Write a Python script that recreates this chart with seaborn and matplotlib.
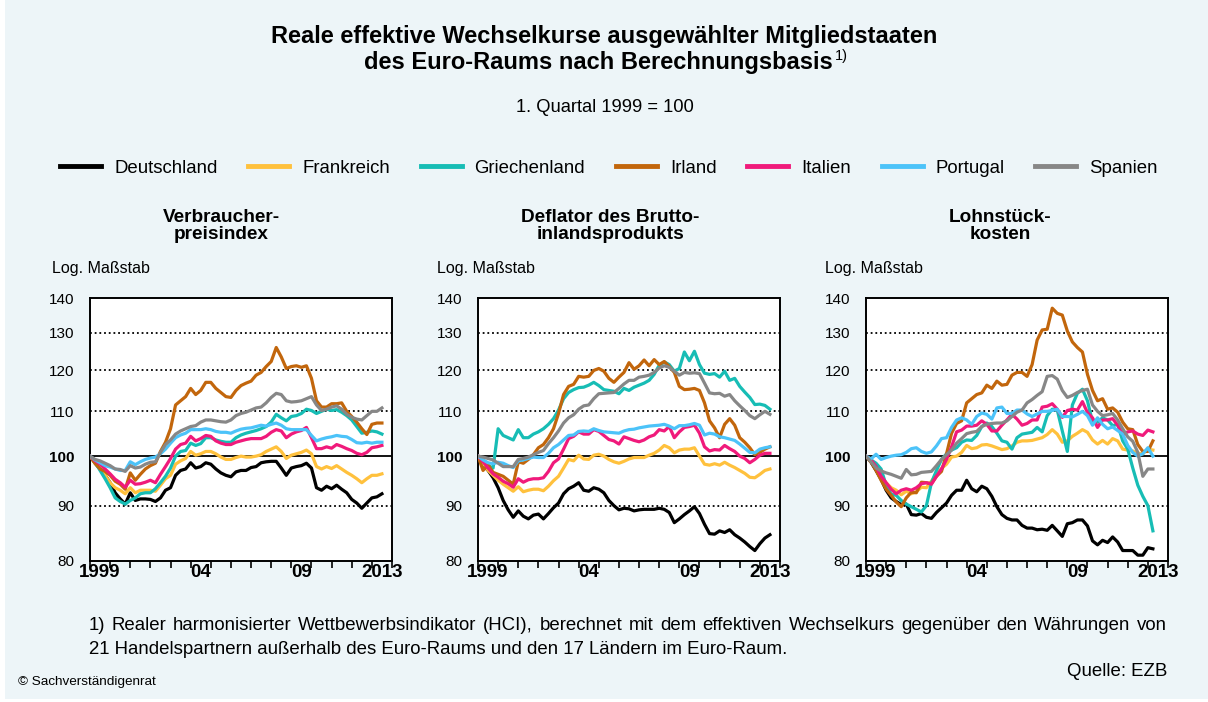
import numpy as np
import pandas as pd
import seaborn as sns
import matplotlib
matplotlib.use("Agg")
import matplotlib.pyplot as plt
from matplotlib.patches import Rectangle

plt.rcParams["font.family"] = ["Liberation Sans", "DejaVu Sans"]

laender = ["Deutschland", "Frankreich", "Griechenland", "Irland", "Italien", "Portugal", "Spanien"]
farben = ["#000000", "#FFC13D", "#17BDB5", "#C2660C", "#F01A7B", "#4CC3F9", "#878787"]

# Verbraucherpreisindex, quartalsweise ab 1999 Q1
vpi_de = [100, 98.5, 97.3, 96, 94.5, 92.5, 91.3, 90.3, 92.5, 91, 91.3, 91.3, 91.2, 90.8, 91.5, 93, 93.5, 96, 97, 97.3,
          98.6, 97.5, 97.8, 98.6, 98.3, 97.3, 96.5, 96, 95.7, 96.7, 97, 97, 97.6, 97.8, 98.6, 98.8, 98.9, 98.9, 97.5, 96,
          97.5, 97.8, 98, 98.5, 97.5, 93.5, 93, 93.8, 93.3, 94, 93.2, 92.5, 91.2, 90.5, 89.5, 90.5, 91.5, 91.7, 92.3]
vpi_fr = [100, 98.5, 97.5, 96, 94.5, 93.5, 93, 92.3, 93.5, 92.5, 93, 93, 93, 92.8, 94, 95.3, 96, 98.3, 99, 99.5,
          101, 100.2, 100.5, 101, 101, 100.5, 99.8, 99.3, 99.3, 99.7, 100, 99.8, 99.8, 100, 100.3, 101, 101.5, 102, 101, 99.5,
          100.2, 100.5, 100.8, 101.3, 100.5, 97.8, 97.3, 97.8, 97.4, 98, 97.3, 96.6, 96, 95.3, 94.5, 95.3, 96, 96, 96.3]
vpi_gr = [100, 98.7, 97, 95.3, 93.5, 91.5, 90.8, 90.3, 91, 91.5, 92.3, 92.5, 92.5, 93.3, 94.5, 95.8, 97.5, 100, 101, 101.2,
          102.8, 102.3, 102.7, 104, 104, 103.5, 103.2, 103, 103, 104, 104.6, 105, 105.3, 105.6, 106, 106.5, 107.5, 109.3, 108.5, 107.8,
          108.8, 109, 109.5, 110.5, 110.2, 109.5, 110, 110.5, 110.2, 110.4, 109.8, 109, 108, 106.5, 105, 105.2, 105.5, 105.3, 104.8]
vpi_ie = [100, 98.5, 97.3, 96.8, 96, 94.8, 94.2, 93.2, 96.5, 95, 96.2, 97.3, 98, 98.5, 101, 103, 106, 111.5, 112.5, 113.5,
          115.5, 114, 115, 117, 117, 115.5, 114.5, 113.5, 113.3, 115, 116.2, 116.8, 117.3, 118.8, 119.5, 121, 122.3, 126, 123.5, 120.5,
          121, 121.2, 120.8, 121.2, 118, 112.5, 111, 111, 111.8, 111.8, 112, 110, 108.8, 107.5, 106, 104.7, 107, 107.3, 107.3]
vpi_it = [100, 99, 98.3, 97.3, 96.3, 95.2, 94.5, 93.6, 95, 94.2, 94.3, 94.6, 95, 94.5, 96.2, 97.8, 99.5, 101.5, 102.5, 102.8,
          104.3, 103.3, 103.8, 104.5, 104.3, 103.3, 102.8, 102.5, 102.5, 103, 103.3, 103.6, 103.8, 103.8, 103.8, 104.3, 105.2, 105.8, 105.5, 104,
          104.8, 105.3, 105.6, 106.3, 104, 101.6, 101.6, 102, 101.7, 102.5, 102.1, 101.6, 101.2, 100.6, 100.3, 100.8, 101.8, 102, 102.3]
vpi_pt = [100, 99.2, 98.6, 98, 97.7, 97.3, 97, 97, 98.8, 98.2, 98.8, 99.3, 99.6, 99.8, 100.5, 101.5, 102.8, 104, 104.6, 105,
          105.8, 105.8, 105.8, 106, 105.8, 105.4, 105.2, 105.2, 105, 105.5, 105.9, 106.1, 106.2, 106.5, 106.8, 106.6, 107, 107.3, 106.8, 106,
          105.8, 105.8, 105.8, 105.8, 104.5, 103.3, 103.7, 104, 104.2, 104.5, 104.3, 104.2, 103.6, 102.9, 102.8, 103, 102.8, 103, 103]
vpi_es = [100, 99.3, 99, 98.5, 98, 97.3, 97.2, 96.8, 98, 97.5, 97.7, 98.3, 98.7, 98.8, 100.8, 102.5, 103.5, 104.8, 105.5, 106,
          106.5, 106.7, 107.5, 108, 108, 107.8, 107.6, 107.5, 108, 109, 109.5, 109.8, 110.3, 110.8, 111, 112, 113.3, 114.3, 114, 112.5,
          112.2, 112.3, 112.5, 113, 113.5, 111.5, 110.2, 110.5, 111, 111.3, 110.5, 109.3, 108.6, 108.2, 108, 109, 110, 110, 110.8]

# Deflator des Bruttoinlandsprodukts
bip_de = [100, 98.2, 97, 95.5, 93.5, 91, 89.2, 87.8, 89, 88, 87.5, 88.2, 88.4, 87.5, 88.5, 89.6, 90.5, 92.3, 93.3, 93.8,
          94.5, 93, 92.8, 93.5, 93.2, 92.5, 91, 90, 89.2, 89.5, 89.4, 89, 89.2, 89.3, 89.3, 89.3, 89.5, 89.3, 88.7, 86.8,
          87.5, 88.3, 89, 89.8, 88.5, 86.5, 84.8, 84.7, 85.3, 85, 85.5, 84.6, 84, 83.3, 82.5, 81.8, 83, 84, 84.6]
bip_fr = [100, 98.5, 97, 96, 95, 94.2, 93.5, 92.8, 93.7, 92.7, 93, 93.2, 93.2, 92.9, 93.8, 94.9, 95.8, 97.5, 99.3, 99,
          100.2, 99.4, 99.3, 100.2, 100.4, 100, 99.3, 98.8, 98.5, 98.9, 99.4, 99.7, 99.7, 99.7, 100.2, 100.6, 101.3, 102.3, 101.8, 100.7,
          101.3, 101.5, 101.5, 101.8, 100, 98.3, 98.1, 98.4, 98.1, 98.7, 98.1, 97.6, 97, 96.4, 95.6, 95.5, 96.2, 97, 97.3]
bip_gr = [100, 99, 98, 97.5, 106, 104.5, 104, 103.5, 105.8, 104, 104, 104.8, 105.3, 106, 107, 108.3, 110.3, 113, 114.5, 115.2,
          115.7, 115.8, 116.3, 117, 116.2, 115.2, 115, 114.8, 114.2, 115.5, 115, 115.8, 116.3, 116.8, 117.5, 119, 121.3, 122.2, 121.5, 119.8,
          120.5, 124.8, 122.5, 125, 121.5, 119.3, 119, 119.2, 118.3, 119.8, 117.5, 118, 116, 114.6, 113.3, 111.6, 111.7, 111.4, 110.5]
bip_ie = [100, 97, 98.2, 96.6, 96.2, 95.8, 95, 94.2, 98.8, 98.5, 99.3, 100.3, 101.8, 102.5, 104, 106, 109.5, 114, 116, 116.5,
          118.5, 118.3, 118.5, 120, 120.5, 119.8, 118, 117, 118.3, 119.5, 122, 120.3, 121.2, 122.7, 121.2, 122.8, 121.5, 122.3, 121, 119.5,
          116, 115.2, 115.3, 115.5, 115, 112, 107.8, 106.2, 104, 107, 108.3, 106.8, 104, 103, 101.8, 100.3, 100.8, 101.5, 102]
bip_it = [100, 98.8, 97.5, 96.3, 95.6, 94.8, 94.3, 93.6, 95.3, 94.6, 95.1, 95.3, 95.3, 95.5, 96.8, 98.6, 99.4, 101.5, 103.8, 104.3,
          105.3, 104.8, 104.8, 105.8, 105.4, 104.5, 103.6, 103.3, 102.6, 104.2, 103.8, 103.4, 103.1, 103.5, 104.2, 104.6, 105.8, 105.5, 106.5, 104,
          105.3, 106.3, 106.5, 106.8, 105, 102, 101.1, 101.4, 101.3, 102.3, 101.6, 101, 100, 99.5, 98.6, 99.3, 100.2, 100.6, 100.6]
bip_pt = [100, 99.2, 98.6, 98.4, 98.7, 98.5, 98, 97.6, 99, 99.2, 99.5, 99.8, 99.7, 99.7, 100.6, 101.8, 102.5, 103.5, 104.5, 104.6,
          105.4, 105.5, 105.4, 106, 105.6, 105.3, 105.2, 105.1, 105, 105.5, 105.8, 105.9, 106.2, 106.4, 106.6, 106.7, 106.8, 107, 106.6, 106,
          106.7, 106.7, 106.9, 107.2, 106.8, 104.6, 105, 104.8, 104.2, 104, 103.7, 103.4, 102.6, 101.7, 100.8, 100.7, 101.5, 101.8, 102]
bip_es = [100, 99.8, 99.5, 99.2, 98.5, 97.8, 97.8, 97.8, 99.3, 99.5, 99.8, 100.3, 100.8, 101.2, 102.7, 104, 105.5, 107.3, 108.5, 109.2,
          110.5, 111.3, 111.5, 113, 114.2, 114.3, 114.4, 114.5, 115.5, 116.6, 117.5, 117.5, 118.3, 118.5, 118.8, 119.5, 120.6, 121.2, 120.8, 119.8,
          118.8, 119.5, 119.3, 119.4, 119.2, 116.8, 114.4, 114.2, 114.3, 113.6, 114, 112.5, 111.3, 110.2, 109, 108.3, 109.2, 110, 109.3]

# Lohnstueckkosten
lsk_de = [100, 98.7, 97, 95.2, 93, 91.5, 90.8, 90.2, 90.3, 88.3, 88.2, 88.5, 87.8, 87.6, 88.7, 89.6, 90.5, 92, 93, 93,
          95, 93.3, 92.7, 93.8, 93.3, 91.8, 89.8, 88.3, 87.6, 87.3, 87.3, 86.3, 85.8, 85.8, 85.5, 85.6, 85.4, 86.3, 85.3, 84.3,
          86.6, 86.8, 87.3, 87.3, 86.2, 83.5, 82.8, 83.6, 83.2, 84.2, 83.3, 81.8, 81.8, 81.8, 81, 81, 82.3, 82.1]
lsk_fr = [100, 98.8, 97.5, 95.8, 94.5, 93.5, 93, 92.1, 92.8, 92.3, 92.7, 93.6, 93.5, 94.8, 96.3, 97.4, 98.3, 99.8, 100, 100.8,
          102.3, 101.6, 101.8, 102.4, 102.5, 102.2, 101.8, 101.4, 101.6, 102.2, 103, 103.3, 103.3, 103.4, 103.7, 104, 104.7, 105.8, 104.8, 103,
          103.3, 104.3, 105, 105.8, 105.2, 103.5, 102.6, 103.4, 102.6, 103.8, 103.3, 101.5, 101.3, 101.1, 100.6, 100.5, 101.5, 101.3]
lsk_gr = [100, 99.2, 98.5, 97.3, 94, 92.2, 92, 91, 90.3, 89.8, 89.3, 88.8, 90, 94.5, 97, 99.3, 100.5, 101.3, 101.8, 103,
          103.5, 103.4, 104.5, 106.5, 107.3, 106.5, 105, 103.3, 103, 101.5, 104, 104.8, 105, 105.2, 106.3, 105.3, 109, 110.5, 110.3, 105.5,
          101, 111.5, 114.3, 115.3, 112.5, 107.5, 107.5, 108.5, 108, 106.7, 107, 103.3, 101.5, 97.5, 94, 91.8, 90, 85.3]
lsk_ie = [100, 98.8, 97, 95, 93.2, 92, 90.7, 89.8, 91.5, 92.6, 92.5, 94.6, 94.5, 94.3, 95.8, 96.8, 100.5, 105, 107.2, 107.8,
          112, 113, 114, 114.4, 116.3, 115.5, 117.3, 116.3, 116.5, 118.8, 119.5, 119.5, 118.5, 121.5, 128, 130.8, 131, 137, 135.5, 135,
          130.5, 127.5, 126, 124.8, 119, 115, 112.5, 113, 110.5, 110.8, 109.8, 107.5, 106, 105.8, 102.5, 101, 101, 103.3]
lsk_it = [100, 99.2, 97.8, 95.8, 94.5, 93.2, 92.3, 93, 93.3, 93, 93.5, 94.3, 94.5, 94.2, 95.8, 97.3, 99.3, 102, 105.3, 105.7,
          106.6, 106.6, 106.8, 107.8, 107, 105.5, 105.5, 106.8, 108, 109.3, 108.2, 106.8, 107.2, 108, 108, 111, 111.2, 111.8, 110.5, 108.6,
          110.2, 110.5, 110.3, 112.3, 109.7, 108.5, 106.3, 108, 108, 108.3, 106.8, 104.8, 105.3, 105.5, 104.8, 104.5, 105.7, 105.3]
lsk_pt = [100, 99.4, 100.4, 99.3, 99.7, 100, 100.2, 100.3, 100.8, 101.6, 101.8, 101, 100.6, 100.9, 102.2, 103.8, 104, 106.3, 108, 108.5,
          108, 107, 108.8, 109.6, 109.3, 108.2, 110.8, 111, 109.5, 109.5, 110.3, 110.3, 109.4, 108.8, 109.4, 110, 110, 110.2, 110.5, 108.8,
          108.8, 108.7, 109.3, 110, 109, 106.8, 108.5, 107, 106, 106.4, 105.6, 104.8, 102.3, 100.8, 100, 100.5, 101.8, 100]
lsk_es = [100, 98.8, 97.5, 96.9, 96.5, 96.2, 95.8, 95.4, 97.2, 96.1, 96.2, 96.6, 96.7, 96.8, 98, 99.3, 100.3, 101.3, 102.8, 103.8,
          104.9, 105.2, 105.4, 106.5, 107, 107.2, 107.3, 107.3, 107.8, 108.8, 109.8, 110.3, 112, 112.8, 113.8, 114.7, 118.5, 118.7, 117.8, 115,
          113.3, 113.8, 114.5, 115, 115.3, 111.5, 110, 109, 109.2, 109.5, 108, 106, 104.2, 103.2, 100.8, 95.8, 97.3, 97.3]

panel_titel = ["Verbraucher-\npreisindex", "Deflator des Brutto-\ninlandsprodukts", "Lohnstück-\nkosten"]
panel_daten = [
    [vpi_de, vpi_fr, vpi_gr, vpi_ie, vpi_it, vpi_pt, vpi_es],
    [bip_de, bip_fr, bip_gr, bip_ie, bip_it, bip_pt, bip_es],
    [lsk_de, lsk_fr, lsk_gr, lsk_ie, lsk_it, lsk_pt, lsk_es],
]
y_ticks = [80, 90, 100, 110, 120, 130, 140]
x_labels = ["1999", "04", "09", "2013"]

fussnote_1 = ("1) Realer harmonisierter Wettbewerbsindikator (HCI), berechnet mit dem effektiven "
              "Wechselkurs gegenüber den Währungen von")
fussnote_2 = "21 Handelspartnern außerhalb des Euro-Raums und den 17 Ländern im Euro-Raum."


def make_df(reihen):
    rows = []
    for land, werte in zip(laender, reihen):
        for i, w in enumerate(werte):
            rows.append((land, 1999 + i / 4, w))
    return pd.DataFrame(rows, columns=["land", "jahr", "wert"])


W, H = 1208, 702
bg = "#EDF5F8"
fig = plt.figure(figsize=(W / 100, H / 100), dpi=100, facecolor="white")
# hellblaue Flaeche mit schmalem weissen Rand links und unten
fig.patches.append(Rectangle((5 / W, 3 / H), 1, 1, transform=fig.transFigure, facecolor=bg,
                             edgecolor="none", zorder=-10))

ax_left = [90, 478, 866]
titel_x = [221, 610, 1000]
log_x = [52, 437, 825]

for k in range(3):
    ax = fig.add_axes([ax_left[k] / W, (H - 561) / H, 302 / W, 263 / H])
    ax.set_facecolor("white")
    df = make_df(panel_daten[k])
    sns.lineplot(data=df, x="jahr", y="wert", hue="land", hue_order=laender, palette=farben,
                 estimator=None, linewidth=2.3, legend=False, ax=ax, zorder=3)
    ax.set_yscale("log")
    ax.set_ylim(80, 140)
    ax.set_xlim(1999, 2014)
    for v in [90, 110, 120, 130]:
        ax.axhline(v, color="black", lw=1.3, ls=(0, (1, 1.6)), zorder=1)
    ax.axhline(100, color="black", lw=1.3, zorder=1)
    ax.set_yticks(y_ticks, [str(v) for v in y_ticks])
    ax.yaxis.set_minor_locator(plt.NullLocator())
    ax.get_yticklabels()[2].set_fontweight("bold")
    ax.tick_params(axis="y", which="both", length=0, pad=11, labelsize=11)
    ax.set_xticks(range(1999, 2015), [""] * 16)
    ax.set_xticks([1999.5, 2004.5, 2009.5, 2013.5], x_labels, minor=True)
    ax.tick_params(axis="x", which="major", length=5, width=1.2, direction="out")
    ax.tick_params(axis="x", which="minor", length=0, pad=2, labelsize=13.5)
    for lab in ax.get_xticklabels(minor=True):
        lab.set_fontweight("bold")
    for s in ax.spines.values():
        s.set_color("black")
        s.set_linewidth(1.4)
    ax.set_xlabel("")
    ax.set_ylabel("")
    fig.text(titel_x[k] / W, 1 - 226 / H, panel_titel[k], ha="center", va="center",
             fontsize=13.7, fontweight="bold", linespacing=1.05)
    fig.text(log_x[k] / W, 1 - 268 / H, "Log. Maßstab", ha="left", va="center", fontsize=11.5)

handles = [plt.Line2D([], [], color=c, lw=3.5) for c in farben]
fig.legend(handles, laender, loc="center", bbox_to_anchor=(609 / W, 1 - 168 / H), ncol=7, frameon=False,
           fontsize=13.4, handlelength=2.2, handletextpad=0.7, columnspacing=1.65)

fig.text(0.5, 1 - 37 / H, "Reale effektive Wechselkurse ausgewählter Mitgliedstaaten",
         ha="center", va="center", fontsize=17, fontweight="bold")
t2 = fig.text(598 / W, 1 - 63 / H, "des Euro-Raums nach Berechnungsbasis",
              ha="center", va="center", fontsize=17, fontweight="bold")
fig.text(605 / W, 1 - 108 / H, "1. Quartal 1999 = 100", ha="center", va="center", fontsize=13.2)

renderer = fig.canvas.get_renderer()
bb = t2.get_window_extent(renderer)
fig.text((bb.x1 + 2) / W, 1 - 56 / H, "1)", ha="left", va="center", fontsize=10.5)

# erste Fussnotenzeile im Blocksatz bis zum rechten Rand
woerter = fussnote_1.split(" ")
teile = [fig.text(0, 1 - 625 / H, w, ha="left", va="center", fontsize=13.4) for w in woerter]
breiten = [t.get_window_extent(renderer).width for t in teile]
luecke = (1167 - 89 - sum(breiten)) / (len(teile) - 1)
x = 89
for t, b in zip(teile, breiten):
    t.set_x(x / W)
    x += b + luecke
fig.text(89 / W, 1 - 649 / H, fussnote_2, ha="left", va="center", fontsize=13.4)
fig.text(1167 / W, 1 - 671 / H, "Quelle: EZB", ha="right", va="center", fontsize=13.4)
fig.text(18 / W, 1 - 682 / H, "© Sachverständigenrat", ha="left", va="center", fontsize=9.7)

fig.savefig("out.png", dpi=100, facecolor="white")
